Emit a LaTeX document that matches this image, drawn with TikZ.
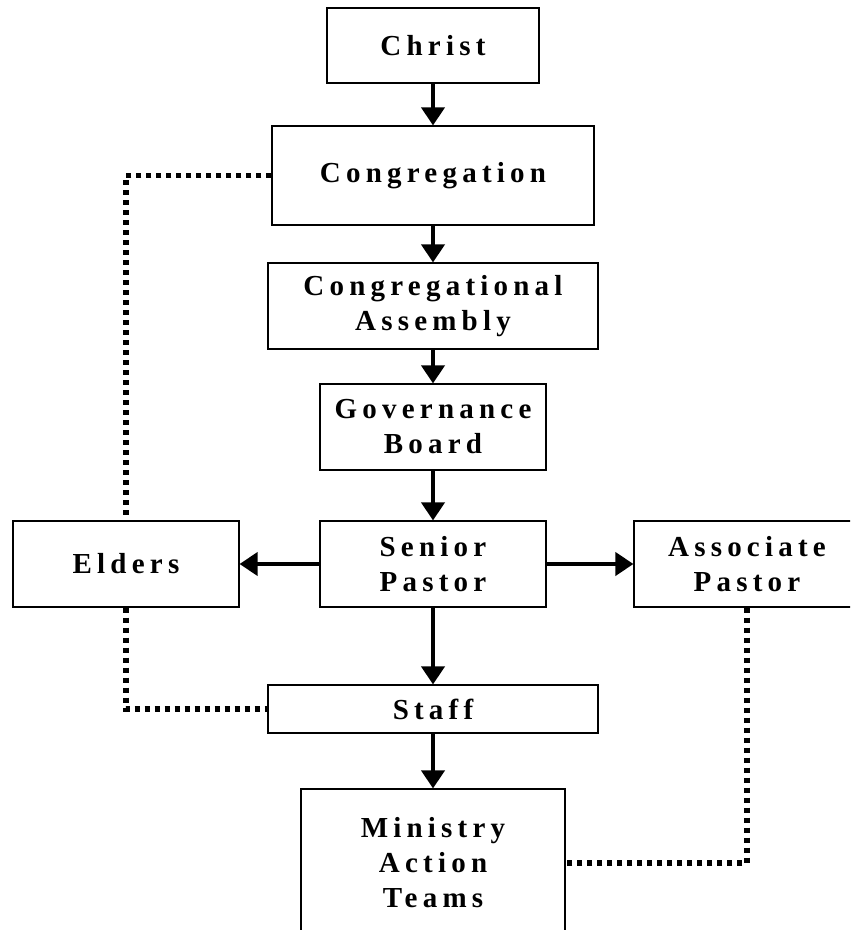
\documentclass[tikz,border=0pt]{standalone}
\usepackage{fontspec}
\setmainfont{Liberation Serif}
\newfontfamily\chartfont[LetterSpace=18]{Liberation Serif}
\usetikzlibrary{arrows.meta}

\begin{document}
\begin{tikzpicture}[x=0.5pt, y=-0.5pt,
  box/.style={draw, line width=0.6pt, inner sep=0pt, align=center,
              font=\chartfont\bfseries\fontsize{14.5}{17.5}\selectfont},
  flow/.style={line width=2pt, -{Triangle[width=11.5pt, length=9pt]}},
  link/.style={line width=2.6pt, dash pattern=on 2.6pt off 2.4pt},
]
\useasboundingbox (0,0) rectangle (850,930);
\clip (0,0) rectangle (850,930);

% main column
\node[box, minimum width=106pt, minimum height=37.5pt] (christ) at (433, 45.5) {Christ};
\node[box, minimum width=161pt, minimum height=49.5pt] (cong) at (433, 175.5) {Congregation};
\node[box, minimum width=165pt, minimum height=43pt] (assembly) at (433, 306) {Congregational\\Assembly};
\node[box, minimum width=113pt, minimum height=43pt] (board) at (433, 427) {Governance\\Board};
\node[box, minimum width=113pt, minimum height=43pt] (senior) at (433, 564) {Senior\\Pastor};
\node[box, minimum width=165pt, minimum height=24pt] (staff) at (433, 709) {Staff};
\node[box, minimum width=132pt, minimum height=74pt] (teams) at (433, 863) {Ministry\\Action\\Teams};

% side boxes
\node[box, minimum width=113pt, minimum height=43pt] (elders) at (126, 564) {Elders};
\node[box, minimum width=113pt, minimum height=43pt] (assoc) at (747, 564) {Associate\\Pastor};

\draw[flow] (christ) -- (cong);
\draw[flow] (cong) -- (assembly);
\draw[flow] (assembly) -- (board);
\draw[flow] (board) -- (senior);
\draw[flow] (senior) -- (elders);
\draw[flow] (senior) -- (assoc);
\draw[flow] (senior) -- (staff);
\draw[flow] (staff) -- (teams);

% dotted links
\draw[link] (cong.west) -| (elders.north);
\draw[link] (elders.south) |- (staff.west);
\draw[link] (assoc.south) |- (teams.east);

\end{tikzpicture}
\end{document}
